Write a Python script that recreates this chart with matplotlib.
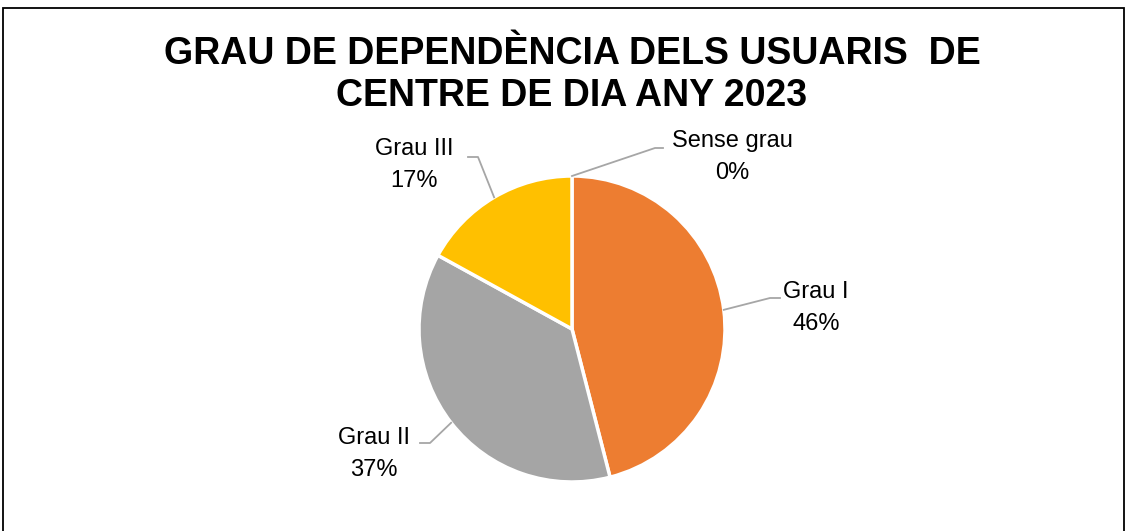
import matplotlib.pyplot as plt
import numpy as np

plt.rcParams['font.family'] = ['Liberation Sans', 'DejaVu Sans']

# data
labels = ['Sense grau', 'Grau I', 'Grau II', 'Grau III']
values = [0, 46, 37, 17]
colors = ['#4472C4', '#ED7D31', '#A5A5A5', '#FFC000']
title = 'GRAU DE DEPENDÈNCIA DELS USUARIS  DE\nCENTRE DE DIA ANY 2023'

W, H = 1128, 531
fig = plt.figure(figsize=(W / 100, H / 100), dpi=100)
ax = fig.add_axes([0, 0, 1, 1])

cx, cy, r = 572, H - 329, 153
ax.pie(values, colors=colors, startangle=90, counterclock=False,
       center=(cx, cy), radius=r,
       wedgeprops=dict(edgecolor='white', linewidth=2.5))
# pie resets limits, so set them afterwards
ax.set_xlim(0, W)
ax.set_ylim(0, H)
ax.set_aspect('equal')
ax.axis('off')

# frame (bottom edge is cut off in the reference)
ax.plot([3, 3, 1124, 1124], [0, H - 8, H - 8, 0], color='black', lw=1.3,
        solid_joinstyle='miter')

# label layout: elbow point, end of leader, text centre (image px)
elbows = [(655, 148), (770, 298), (430, 443), (478, 157)]
ends = [663, 780, 420, 468]
text_pos = [(732, 157), (816, 308), (374, 454), (414, 165)]

tot = float(sum(values))
cum = np.cumsum([0] + values)
for i, lab in enumerate(labels):
    mid = (cum[i] + cum[i + 1]) / 2 / tot * 2 * np.pi
    ax_x = cx + r * np.sin(mid)
    ax_y = cy + r * np.cos(mid)
    ex, ey = elbows[i]
    ax.plot([ax_x, ex, ends[i]], [ax_y, H - ey, H - ey], color='#A6A6A6',
            lw=1.3, zorder=1)
    pct = round(values[i] / tot * 100)
    tx, ty = text_pos[i]
    ax.text(tx, H - ty, '%s\n%d%%' % (lab, pct), ha='center', va='center',
            fontsize=17, linespacing=1.6, color='#000000')

ax.text(572, H - 75, title, ha='center', va='center', fontsize=27,
        fontweight='bold', linespacing=1.25)

fig.savefig('out.png', dpi=100)
